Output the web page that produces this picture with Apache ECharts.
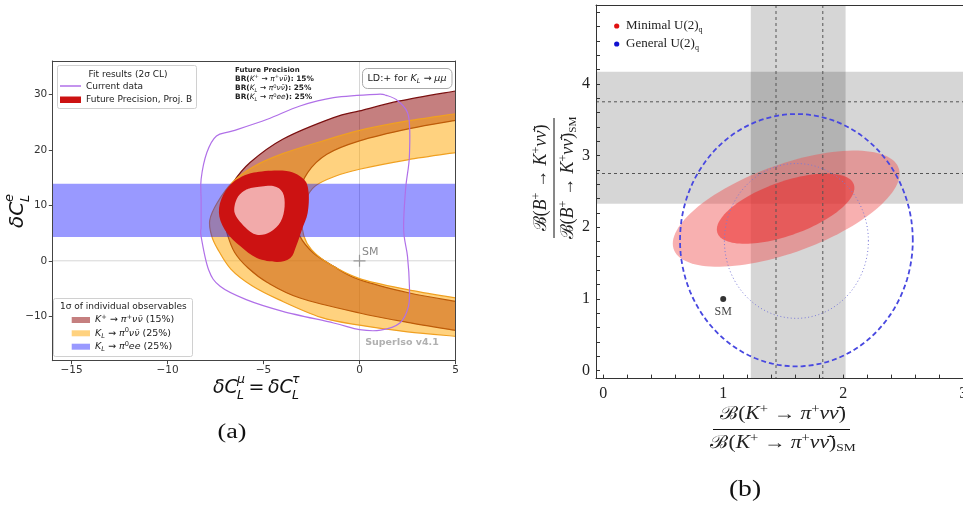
<!DOCTYPE html>
<html><head><meta charset="utf-8">
<script src="https://cdn.jsdelivr.net/npm/echarts@6/dist/echarts.min.js"></script>
<style>html,body{margin:0;padding:0;background:#fff}#c{width:963px;height:506px}</style>
</head><body><div id="c"></div>
<script>
// ---------- Panel (a) data ----------
const aXTicks = [-15, -10, -5, 0, 5];
const aYTicks = [-10, 0, 10, 20, 30];
// K+ -> pi+ nu nu (15%) band: outer and inner edges
const kpOuter = [[5,30.6],[2.1,28.8],[0,27.0],[-1.35,25.8],[-4,21.9],[-5.7,17.7],[-6.6,14.0],[-6.95,11.0],[-7.05,8.0],[-6.9,5.0],[-6.5,1.5],[-5.8,-1.3],[-4.8,-3.9],[-3.1,-6.7],[0,-9.4],[2.5,-11.1],[5,-12.55]];
const kpInner = [[5,25.3],[2.6,23.8],[0,21.6],[-1.7,19.2],[-2.7,15.9],[-3.2,11.7],[-3.3,7.4],[-3.1,4.4],[-2.4,1.4],[-1.35,-1.0],[0,-3.4],[2.6,-5.8],[5,-7.3]];
// K_L -> pi0 nu nu (25%) band
const klOuter = [[5,26.5],[2.5,25.2],[0,23.5],[-2,21.5],[-4,19.3],[-5.5,17.0],[-6.6,14.2],[-7.4,10.5],[-7.8,7.3],[-7.7,4.5],[-7.4,2.2],[-6.7,-1.5],[-5.6,-4.5],[-4.2,-7.0],[-2,-10.2],[0,-11.6],[2.5,-12.8],[5,-13.6]];
const klInner = [[5,19.5],[2.5,18.2],[0,16.5],[-1.3,15.2],[-2.3,13.5],[-2.8,11.0],[-3.0,7.5],[-2.9,4.5],[-2.5,2.0],[-1.6,-0.5],[0,-3.2],[2.5,-5.2],[5,-6.7]];
// K_L -> pi0 ee (25%) band, y range
const eeBand = [4.3, 13.9];
// Current data (2 sigma) contour
const currentData = [[0.9,30],[-1.35,29.4],[-3.1,27.9],[-4.8,25.5],[-6.6,23.4],[-7.45,22.5],[-7.95,19.5],[-8.25,14.7],[-8.25,11],[-8.25,6.2],[-8.25,4.4],[-7.86,-1.6],[-7.26,-4.6],[-5.9,-7],[-4,-9.1],[-1.35,-11.2],[0,-12.4],[1.1,-12.5],[2.1,-11.2],[2.55,-8.2],[2.6,-4.6],[2.5,0.8],[2.3,5.6],[2.4,12.9],[2.6,18.9],[2.55,26.1],[2.0,28.8],[1.4,29.8]];
// Future precision, Proj. B (2 sigma and 1 sigma)
const futOuter = [[-5.5,15.9],[-3.8,16.2],[-2.9,14.7],[-2.65,12.3],[-2.7,8.6],[-3.0,5.6],[-3.3,2.6],[-3.6,0.5],[-4.3,-0.2],[-5.35,0.5],[-6.2,2.6],[-6.9,5.0],[-7.3,8.0],[-7.2,11.1],[-6.6,14.1]];
const futInner = [[-5.5,13.2],[-4.5,13.5],[-4.0,12.3],[-3.9,9.8],[-4.1,7.1],[-4.65,5.2],[-5.35,4.7],[-6.0,6.2],[-6.5,8.6],[-6.4,11.1],[-6.0,12.6]];
const smA = [0, 0];

// ---------- Panel (b) data ----------
const bXTicks = [0, 1, 2, 3];
const bYTicks = [0, 1, 2, 3, 4];
const bXMinor = [0,0.2,0.4,0.6,0.8,1,1.2,1.4,1.6,1.8,2,2.2,2.4,2.6,2.8,3];
const bYMinor = [0,0.2,0.4,0.6,0.8,1,1.2,1.4,1.6,1.8,2,2.2,2.4,2.6,2.8,3,3.2,3.4,3.6,3.8,4,4.2,4.4,4.6,4.8,5];
const kBand = [1.23, 2.02];      // K+ measurement band (x)
const kDashed = [1.44, 1.83];
const bBand = [2.33, 4.17];      // B+ measurement band (y)
const bDashed = [2.75, 3.75];
// ellipses: [cx, cy, A, C, D]  x = cx + A cos t ; y = cy + C cos t + D sin t
const minimalOuter = [1.525, 2.26, 0.945, 0.487, 0.647];
const minimalInner = [1.52, 2.26, 0.573, 0.29, 0.395];
const generalOuter = [1.61, 1.82, 0.97, 0, 1.76];
const generalInner = [1.61, 1.81, 0.60, 0, 1.08];
const smB = [1, 1];

// ---------- helpers ----------
function crSeg(pts, closed) {
  const n = pts.length; let d = '';
  const get = i => closed ? pts[(i + n) % n] : pts[Math.max(0, Math.min(n - 1, i))];
  const m = closed ? n : n - 1;
  for (let i = 0; i < m; i++) {
    const p0 = get(i - 1), p1 = get(i), p2 = get(i + 1), p3 = get(i + 2);
    const c1 = [p1[0] + (p2[0] - p0[0]) / 6, p1[1] + (p2[1] - p0[1]) / 6];
    const c2 = [p2[0] - (p3[0] - p1[0]) / 6, p2[1] - (p3[1] - p1[1]) / 6];
    d += ' C' + c1[0] + ',' + c1[1] + ' ' + c2[0] + ',' + c2[1] + ' ' + p2[0] + ',' + p2[1];
  }
  return d;
}
const pOpen = p => 'M' + p[0][0] + ',' + p[0][1] + crSeg(p, false);
const pClosed = p => 'M' + p[0][0] + ',' + p[0][1] + crSeg(p, true) + ' Z';
const pBand = (a, b) => { const r = b.slice().reverse(); return 'M' + a[0][0] + ',' + a[0][1] + crSeg(a, false) + ' L' + r[0][0] + ',' + r[0][1] + crSeg(r, false) + ' Z'; };

function custom(gi, z, data, fn) {
  return { type: 'custom', xAxisIndex: gi === 0 ? 0 : 2, yAxisIndex: gi === 0 ? 0 : 2, clip: true, z, silent: true,
    data: [data], renderItem: (params, api) => fn(params, api) };
}
function band(outer, inner, fill, edge, z) {
  return custom(0, z, outer[0], (p, api) => {
    const o = outer.map(q => api.coord(q)), i = inner.map(q => api.coord(q));
    return { type: 'group', children: [
      { type: 'path', shape: { pathData: pBand(o, i) }, style: { fill, stroke: null } },
      { type: 'path', shape: { pathData: pOpen(o) }, style: { fill: null, stroke: edge, lineWidth: 1.2 } },
      { type: 'path', shape: { pathData: pOpen(i) }, style: { fill: null, stroke: edge, lineWidth: 1.2 } }
    ] };
  });
}
function closedShape(pts, fill, stroke, lw, z) {
  return custom(0, z, pts[0], (p, api) => ({ type: 'path', shape: { pathData: pClosed(pts.map(q => api.coord(q))) },
    style: { fill: fill || null, stroke: stroke || null, lineWidth: lw || 0 } }));
}
function ellipse(e, style, z) {
  return custom(1, z, [e[0], e[1]], (p, api) => {
    const pts = [];
    for (let k = 0; k < 120; k++) { const t = 2 * Math.PI * k / 120; pts.push(api.coord([e[0] + e[2] * Math.cos(t), e[1] + e[3] * Math.cos(t) + e[4] * Math.sin(t)])); }
    return { type: 'polygon', shape: { points: pts }, style };
  });
}
const minus = v => String(v).replace('-', '\u2212');

const SANS = 'DejaVu Sans';
const SERIF = "'Liberation Serif','DejaVu Serif',serif";
function T(x, y, text, st) { return { type: 'text', x, y, z: 100, style: Object.assign({ text, fill: '#222', fontFamily: SANS, fontSize: 9, align: 'left', verticalAlign: 'middle' }, st || {}) }; }
const mathRich = (fs, col, bold) => ({
  n: { fontSize: fs, fontFamily: SANS, color: col, fontWeight: bold ? 'bold' : 'normal' },
  i: { fontSize: fs, fontFamily: SANS, fontStyle: 'italic', color: col },
  s: { fontSize: fs * 0.7, fontFamily: SANS, color: col, padding: [0, 0, fs * 0.55, 0] },
  b: { fontSize: fs * 0.7, fontFamily: SANS, fontStyle: 'italic', color: col, padding: [fs * 0.55, 0, 0, 0] }
});
const serifRich = (fs) => ({
  c: { fontSize: fs, fontFamily: "'DejaVu Serif',serif", color: '#111' },
  r: { fontSize: fs, fontFamily: SERIF, color: '#111' },
  i: { fontSize: fs, fontFamily: SERIF, fontStyle: 'italic', color: '#111' },
  s: { fontSize: fs * 0.68, fontFamily: SERIF, color: '#111', padding: [0, 0, fs * 0.5, 0] },
  b: { fontSize: fs * 0.62, fontFamily: SERIF, color: '#111', padding: [fs * 0.55, 0, 0, 0] }
});

const chart = echarts.init(document.getElementById('c'));
const axCol = '#444';
const option = {
  animation: false,
  backgroundColor: '#fff',
  grid: [
    { left: 52.3, top: 61, width: 403.2, height: 299.7, outerBoundsMode: 'none', containLabel: false },
    { left: 596, top: 5, width: 374.4, height: 373.6, outerBoundsMode: 'none', containLabel: false }
  ],
  xAxis: [
    { gridIndex: 0, type: 'value', min: -16, max: 5, z: 10,
      axisLine: { onZero: false, lineStyle: { color: axCol } },
      axisTick: { show: true, customValues: aXTicks, length: 3.5, lineStyle: { color: axCol } },
      axisLabel: { customValues: aXTicks, formatter: minus, color: '#333', fontSize: 10.5, fontFamily: SANS, margin: 4 },
      splitLine: { show: false } },
    { gridIndex: 0, type: 'value', position: 'top', min: -16, max: 5, z: 10,
      axisLine: { onZero: false, lineStyle: { color: axCol } }, axisTick: { show: false }, axisLabel: { show: false }, splitLine: { show: false } },
    { gridIndex: 1, type: 'value', min: -0.06, max: 3.06, z: 10,
      axisLine: { onZero: false, lineStyle: { color: '#333' } },
      axisTick: { show: true, inside: true, customValues: bXMinor, length: 4, lineStyle: { color: '#333' } },
      axisLabel: { customValues: bXTicks, color: '#222', fontSize: 16, fontFamily: SERIF, margin: 7 },
      splitLine: { show: false } },
    { gridIndex: 1, type: 'value', position: 'top', min: -0.06, max: 3.06, z: 10,
      axisLine: { onZero: false, lineStyle: { color: '#333' } }, axisTick: { show: false }, axisLabel: { show: false }, splitLine: { show: false } }
  ],
  yAxis: [
    { gridIndex: 0, type: 'value', min: -18, max: 36, z: 10,
      axisLine: { onZero: false, lineStyle: { color: axCol } },
      axisTick: { show: true, customValues: aYTicks, length: 3.5, lineStyle: { color: axCol } },
      axisLabel: { customValues: aYTicks, formatter: minus, color: '#333', fontSize: 10.5, fontFamily: SANS, margin: 5 },
      splitLine: { show: false } },
    { gridIndex: 0, type: 'value', position: 'right', min: -18, max: 36, z: 10,
      axisLine: { onZero: false, lineStyle: { color: axCol } }, axisTick: { show: false }, axisLabel: { show: false }, splitLine: { show: false } },
    { gridIndex: 1, type: 'value', min: -0.11, max: 5.1, z: 10,
      axisLine: { onZero: false, lineStyle: { color: '#333' } },
      axisTick: { show: true, inside: true, customValues: bYMinor, length: 4, lineStyle: { color: '#333' } },
      axisLabel: { customValues: bYTicks, color: '#222', fontSize: 16, fontFamily: SERIF, margin: 6 },
      splitLine: { show: false } }
  ],
  series: [
    // SM reference lines (a)
    custom(0, 1, smA, (p, api) => {
      const c = api.coord(smA), cs = p.coordSys;
      return { type: 'group', children: [
        { type: 'line', shape: { x1: c[0], y1: cs.y, x2: c[0], y2: cs.y + cs.height }, style: { stroke: '#d6d6d6', lineWidth: 1 } },
        { type: 'line', shape: { x1: cs.x, y1: c[1], x2: cs.x + cs.width, y2: c[1] }, style: { stroke: '#d6d6d6', lineWidth: 1 } }
      ] };
    }),
    band(kpOuter, kpInner, 'rgba(139,0,0,0.5)', '#7a1010', 2),
    band(klOuter, klInner, 'rgba(255,165,0,0.5)', '#f0a020', 3),
    custom(0, 4, [0, eeBand[0]], (p, api) => {
      const cs = p.coordSys, y1 = api.coord([0, eeBand[1]])[1], y0 = api.coord([0, eeBand[0]])[1];
      return { type: 'rect', shape: { x: cs.x, y: y1, width: cs.width, height: y0 - y1 }, style: { fill: 'rgba(0,0,255,0.4)' } };
    }),
    closedShape(currentData, null, '#b070e8', 1.2, 5),
    closedShape(futOuter, '#cc1212', null, 0, 6),
    closedShape(futInner, '#f2aaaa', null, 0, 7),
    custom(0, 8, smA, (p, api) => {
      const c = api.coord(smA);
      return { type: 'group', children: [
        { type: 'line', shape: { x1: c[0] - 6, y1: c[1], x2: c[0] + 6, y2: c[1] }, style: { stroke: '#999', lineWidth: 1.2 } },
        { type: 'line', shape: { x1: c[0], y1: c[1] - 6, x2: c[0], y2: c[1] + 6 }, style: { stroke: '#999', lineWidth: 1.2 } }
      ] };
    }),
    // ---------- panel (b) ----------
    custom(1, 1, [kBand[0], bBand[0]], (p, api) => {
      const cs = p.coordSys;
      const xa = api.coord([kBand[0], 0])[0], xb = api.coord([kBand[1], 0])[0];
      const ya = api.coord([0, bBand[1]])[1], yb = api.coord([0, bBand[0]])[1];
      return { type: 'group', children: [
        { type: 'rect', shape: { x: xa, y: cs.y, width: xb - xa, height: cs.height }, style: { fill: 'rgba(0,0,0,0.16)' } },
        { type: 'rect', shape: { x: cs.x, y: ya, width: cs.width, height: yb - ya }, style: { fill: 'rgba(0,0,0,0.16)' } }
      ] };
    }),
    ellipse(minimalOuter, { fill: 'rgba(240,80,80,0.45)' }, 2),
    ellipse(minimalInner, { fill: 'rgba(235,40,40,0.55)' }, 3),
    custom(1, 4, [kDashed[0], bDashed[0]], (p, api) => {
      const cs = p.coordSys, ch = [];
      kDashed.forEach(v => { const x = api.coord([v, 0])[0]; ch.push({ type: 'line', shape: { x1: x, y1: cs.y, x2: x, y2: cs.y + cs.height }, style: { stroke: '#555', lineWidth: 1, lineDash: [3, 3] } }); });
      bDashed.forEach(v => { const y = api.coord([0, v])[1]; ch.push({ type: 'line', shape: { x1: cs.x, y1: y, x2: cs.x + cs.width, y2: y }, style: { stroke: '#555', lineWidth: 1, lineDash: [3, 3] } }); });
      return { type: 'group', children: ch };
    }),
    ellipse(generalOuter, { fill: null, stroke: '#4848e0', lineWidth: 1.8, lineDash: [5, 3] }, 5),
    ellipse(generalInner, { fill: null, stroke: '#7a7ad8', lineWidth: 1, lineDash: [1, 2.5] }, 5),
    { type: 'scatter', xAxisIndex: 2, yAxisIndex: 2, z: 6, symbolSize: 6, itemStyle: { color: '#000' }, data: [smB],
      label: { show: true, position: 'bottom', distance: 4, formatter: 'SM', fontFamily: SERIF, fontSize: 12, color: '#111' } }
  ],
  graphic: [
    // legend 1 (a)
    { type: 'rect', z: 90, shape: { x: 57.5, y: 65.5, width: 139, height: 43, r: 2 }, style: { fill: 'rgba(255,255,255,0.85)', stroke: '#d0d0d0', lineWidth: 1 } },
    T(128, 74.5, 'Fit results (2σ CL)', { align: 'center' }),
    { type: 'line', z: 100, shape: { x1: 60, y1: 86, x2: 81, y2: 86 }, style: { stroke: '#b070e8', lineWidth: 1.5 } },
    T(86, 86.5, 'Current data'),
    { type: 'rect', z: 100, shape: { x: 60, y: 96.5, width: 21, height: 6.5 }, style: { fill: '#cc1212' } },
    T(86, 100, 'Future Precision, Proj. B'),
    // legend 2 (a)
    { type: 'rect', z: 90, shape: { x: 53.5, y: 298.5, width: 139, height: 58, r: 2 }, style: { fill: 'rgba(255,255,255,0.85)', stroke: '#d0d0d0', lineWidth: 1 } },
    T(60, 306.5, '1σ of individual observables'),
    { type: 'rect', z: 100, shape: { x: 71.7, y: 317, width: 18.3, height: 6 }, style: { fill: 'rgba(139,0,0,0.5)' } },
    { type: 'rect', z: 100, shape: { x: 71.7, y: 330.3, width: 18.3, height: 6 }, style: { fill: 'rgba(255,165,0,0.5)' } },
    { type: 'rect', z: 100, shape: { x: 71.7, y: 343.7, width: 18.3, height: 6 }, style: { fill: 'rgba(0,0,255,0.4)' } },
    T(95, 320, '{i|K}{s|+}{n| → }{i|π}{s|+}{i|νν̄}{n| (15%)}', { rich: mathRich(9.5, '#222') }),
    T(95, 333.3, '{i|K}{b|L}{n| → }{i|π}{s|0}{i|νν̄}{n| (25%)}', { rich: mathRich(9.5, '#222') }),
    T(95, 346.7, '{i|K}{b|L}{n| → }{i|π}{s|0}{i|ee}{n| (25%)}', { rich: mathRich(9.5, '#222') }),
    // future precision block
    T(235, 70, 'Future Precision', { fontSize: 7, fontWeight: 'bold' }),
    T(235, 79, '{n|BR(}{i|K}{s|+}{n| → }{i|π}{s|+}{i|νν̄}{n|): 15%}', { rich: mathRich(7.4, '#111', true) }),
    T(235, 88.3, '{n|BR(}{i|K}{b|L}{n| → }{i|π}{s|0}{i|νν̄}{n|): 25%}', { rich: mathRich(7.4, '#111', true) }),
    T(235, 97.5, '{n|BR(}{i|K}{b|L}{n| → }{i|π}{s|0}{i|ee}{n|): 25%}', { rich: mathRich(7.4, '#111', true) }),
    // LD box
    { type: 'rect', z: 90, shape: { x: 362.5, y: 68.5, width: 89.5, height: 20, r: 5 }, style: { fill: '#fff', stroke: '#aaa', lineWidth: 1 } },
    T(407, 78.5, '{n|LD:+ for }{i|K}{b|L}{n| → }{i|μμ}', { align: 'center', rich: mathRich(9.5, '#999') }),
    T(362, 252, 'SM', { fontSize: 11, fill: '#888' }),
    T(402, 343, 'SuperIso v4.1', { align: 'center', fontSize: 9.5, fontWeight: 'bold', fill: '#b0b0b0' }),
    // x label (a)
    T(213, 388, 'δC', { fontSize: 19, fontStyle: 'italic', fill: '#111' }),
    T(237, 380, 'μ', { fontSize: 12.5, fontStyle: 'italic', fill: '#111' }),
    T(237, 396, 'L', { fontSize: 12.5, fontStyle: 'italic', fill: '#111' }),
    T(256.5, 388, '=', { fontSize: 19, align: 'center', fill: '#111' }),
    T(268, 388, 'δC', { fontSize: 19, fontStyle: 'italic', fill: '#111' }),
    T(292, 380, 'τ', { fontSize: 12.5, fontStyle: 'italic', fill: '#111' }),
    T(292, 396, 'L', { fontSize: 12.5, fontStyle: 'italic', fill: '#111' }),
    // y label (a)
    { type: 'group', x: 18, y: 211, rotation: Math.PI / 2, children: [
      T(-17, 0, 'δC', { fontSize: 20, fontStyle: 'italic', fill: '#111' }),
      T(9, -8, 'e', { fontSize: 13, fontStyle: 'italic', fill: '#111' }),
      T(9, 8, 'L', { fontSize: 13, fontStyle: 'italic', fill: '#111' })
    ] },
    // panel (b) legend
    { type: 'circle', z: 100, shape: { cx: 616.7, cy: 26, r: 2.6 }, style: { fill: '#e01010' } },
    T(626, 26, '{r|Minimal U(2)}{b|q}', { rich: serifRich(13) }),
    { type: 'circle', z: 100, shape: { cx: 616.7, cy: 44, r: 2.6 }, style: { fill: '#1010d0' } },
    T(626, 44, '{r|General U(2)}{b|q}', { rich: serifRich(13) }),
    // x label (b)
    { type: 'group', x: 783, y: 0, scaleX: 1.2, children: [
      T(0, 414, '{c|ℬ}{r|(}{i|K}{s|+}{r| → }{i|π}{s|+}{i|νν̄}{r|)}', { align: 'center', rich: serifRich(18) }),
      T(0, 443, '{c|ℬ}{r|(}{i|K}{s|+}{r| → }{i|π}{s|+}{i|νν̄}{r|)}{b|SM}', { align: 'center', rich: serifRich(18) })
    ] },
    { type: 'line', z: 100, shape: { x1: 713, y1: 429.5, x2: 850, y2: 429.5 }, style: { stroke: '#111', lineWidth: 1 } },
    // y label (b)
    { type: 'group', x: 554, y: 178, rotation: Math.PI / 2, children: [
      T(0, -13, '{c|ℬ}{r|(}{i|B}{s|+}{r| → }{i|K}{s|+}{i|νν̄}{r|)}', { align: 'center', rich: serifRich(18) }),
      { type: 'line', shape: { x1: -60, y1: 0, x2: 60, y2: 0 }, style: { stroke: '#111', lineWidth: 1 } },
      T(0, 14, '{c|ℬ}{r|(}{i|B}{s|+}{r| → }{i|K}{s|+}{i|νν̄}{r|)}{b|SM}', { align: 'center', rich: serifRich(18) })
    ] },
    // captions
    { type: 'group', x: 232, y: 433, scaleX: 1.3, children: [T(0, 0, '(a)', { align: 'center', fontSize: 20, fontFamily: SERIF, fill: '#111' })] },
    { type: 'group', x: 745, y: 490, scaleX: 1.15, children: [T(0, 0, '(b)', { align: 'center', fontSize: 24, fontFamily: SERIF, fill: '#111' })] }
  ]
};
chart.setOption(option);
</script></body></html>
